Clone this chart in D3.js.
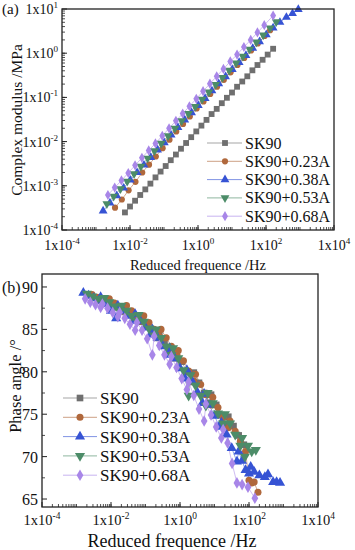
<!DOCTYPE html>
<html>
<head>
<meta charset="utf-8">
<script src="https://cdn.jsdelivr.net/npm/d3@7"></script>
<style>
  body { margin: 0; background: #fff; }
  svg { display: block; font-family: "Liberation Serif", "Times New Roman", "DejaVu Serif", serif; }
</style>
</head>
<body>
<svg id="chart" width="355" height="550"></svg>
<script>
// series names / styles
const seriesNames = ['SK90', 'SK90+0.23A', 'SK90+0.38A', 'SK90+0.53A', 'SK90+0.68A'];
const seriesColors = ['#6f6f6f', '#b0683c', '#3653d4', '#4c8c68', '#a886e8'];

// (a) complex modulus (MPa) vs reduced frequence (Hz)
const freqSK90 = [7.1e-3, 1.0e-2, 1.41e-2, 2.0e-2, 2.82e-2, 3.98e-2, 5.62e-2, 7.94e-2, 0.112, 0.158, 0.224, 0.316, 0.447, 0.631, 0.891, 1.26, 1.78, 2.51, 3.55, 5.01, 7.08, 10, 14.1, 20, 28.2, 39.8, 56.2, 79.4, 112, 162];
const modSK90 = [2.5e-4, 3.4e-4, 4.6e-4, 6.2e-4, 8.3e-4, 1.12e-3, 1.55e-3, 2.1e-3, 2.8e-3, 3.8e-3, 5.1e-3, 6.9e-3, 9.3e-3, 1.26e-2, 1.7e-2, 2.3e-2, 3.1e-2, 4.2e-2, 5.5e-2, 7.4e-2, 9.8e-2, 0.129, 0.174, 0.229, 0.30, 0.41, 0.54, 0.71, 0.93, 1.26];

const freq023 = [3.63e-3, 5.75e-3, 9.1e-3, 1.45e-2, 2.29e-2, 3.63e-2, 5.75e-2, 9.1e-2, 0.145, 0.229, 0.363, 0.575, 0.91, 1.45, 2.29, 3.63, 5.75, 9.1, 14.5, 22.9, 36.3, 57.5, 91, 132];
const mod023 = [3.2e-4, 4.9e-4, 7.9e-4, 1.23e-3, 2.0e-3, 3.0e-3, 4.6e-3, 7.1e-3, 1.1e-2, 1.7e-2, 2.5e-2, 3.7e-2, 5.6e-2, 8.1e-2, 0.12, 0.174, 0.25, 0.37, 0.54, 0.78, 1.15, 1.66, 2.45, 3.3];

const freq038 = [1.62e-3, 2.57e-3, 4.07e-3, 6.46e-3, 1.02e-2, 1.62e-2, 2.57e-2, 4.07e-2, 6.46e-2, 0.102, 0.162, 0.257, 0.407, 0.646, 1.02, 1.62, 2.57, 4.07, 6.46, 10.2, 16.2, 25.7, 40.7, 64.6, 102, 162, 257, 398, 603, 891];
const mod038 = [2.7e-4, 4.1e-4, 6.0e-4, 8.9e-4, 1.35e-3, 2.0e-3, 2.95e-3, 4.4e-3, 6.5e-3, 9.5e-3, 1.41e-2, 2.09e-2, 3.1e-2, 4.5e-2, 6.6e-2, 9.5e-2, 0.141, 0.204, 0.295, 0.43, 0.62, 0.89, 1.29, 1.82, 2.63, 3.72, 5.0, 6.5, 7.9, 9.8];

const freq053 = [2.09e-3, 3.31e-3, 5.25e-3, 8.3e-3, 1.32e-2, 2.09e-2, 3.31e-2, 5.25e-2, 8.3e-2, 0.132, 0.209, 0.331, 0.525, 0.83, 1.32, 2.09, 3.31, 5.25, 8.3, 13.2, 20.9, 33.1, 52.5, 83, 132, 200];
const mod053 = [3.9e-4, 5.75e-4, 8.5e-4, 1.26e-3, 1.86e-3, 2.75e-3, 4.2e-3, 6.2e-3, 9.1e-3, 1.35e-2, 2.0e-2, 2.95e-2, 4.3e-2, 6.2e-2, 9.1e-2, 0.132, 0.195, 0.28, 0.41, 0.60, 0.85, 1.23, 1.78, 2.57, 3.72, 5.1];

const freq068 = [2.24e-3, 3.55e-3, 5.6e-3, 8.9e-3, 1.41e-2, 2.24e-2, 3.55e-2, 5.6e-2, 8.9e-2, 0.141, 0.224, 0.355, 0.56, 0.89, 1.41, 2.24, 3.55, 5.6, 8.9, 14.1, 22.4, 35.5, 56, 89, 162];
const mod068 = [6.2e-4, 9.1e-4, 1.32e-3, 1.95e-3, 2.9e-3, 4.3e-3, 6.3e-3, 9.1e-3, 1.35e-2, 2.0e-2, 2.95e-2, 4.3e-2, 6.3e-2, 9.3e-2, 0.138, 0.204, 0.30, 0.44, 0.65, 0.93, 1.38, 2.0, 2.95, 4.3, 7.1];

// (b) phase angle (deg) vs reduced frequence (Hz)
const phFreqSK90 = [2.51e-3, 3.55e-3, 5.01e-3, 7.08e-3, 7.94e-3, 1.12e-2, 1.58e-2, 2.24e-2, 2.51e-2, 3.55e-2, 5.01e-2, 7.08e-2, 7.94e-2, 0.112, 0.158, 0.224, 0.251, 0.355, 0.501, 0.708, 0.794, 1.12, 1.58, 2.24, 2.51, 3.55, 5.01, 7.08, 7.94, 11.2, 15.8, 22.4, 25.1, 35.5, 50.1, 70.8];
const phaseSK90 = [89.0, 88.7, 88.4, 88.1, 88.5, 88.0, 87.6, 87.1, 87.7, 87.1, 86.5, 85.9, 86.4, 85.6, 84.8, 84.0, 84.6, 83.6, 82.6, 81.6, 82.4, 81.2, 80.0, 78.8, 79.9, 78.7, 77.5, 76.3, 77.3, 76.1, 74.9, 73.7, 74.7, 73.6, 72.5, 71.4];

const phFreq023 = [2.82e-3, 3.98e-3, 5.62e-3, 7.94e-3, 8.91e-3, 1.26e-2, 1.78e-2, 2.51e-2, 2.82e-2, 3.98e-2, 5.62e-2, 7.94e-2, 8.91e-2, 0.126, 0.178, 0.251, 0.282, 0.398, 0.562, 0.794, 0.891, 1.26, 1.78, 2.51, 2.82, 3.98, 5.62, 7.94, 8.91, 12.6, 17.8, 25.1, 28.2, 39.8, 56.2, 79.4, 100, 120, 141, 182];
const phase023 = [89.1, 88.8, 88.5, 88.2, 88.6, 88.1, 87.7, 87.2, 87.8, 87.2, 86.6, 86.0, 86.6, 85.8, 85.0, 84.2, 85.0, 84.0, 83.0, 82.0, 82.5, 81.3, 80.1, 78.9, 79.7, 78.5, 77.3, 76.1, 77.0, 75.8, 74.6, 73.4, 74.2, 73.0, 71.8, 70.6, 67.2, 66.9, 67.0, 65.8];

const phFreq038 = [1.58e-3, 2.24e-3, 3.16e-3, 4.47e-3, 5.01e-3, 7.08e-3, 1.0e-2, 1.41e-2, 1.58e-2, 2.24e-2, 3.16e-2, 4.47e-2, 5.01e-2, 7.08e-2, 0.1, 0.141, 0.158, 0.224, 0.316, 0.447, 0.501, 0.708, 1, 1.41, 1.58, 2.24, 3.16, 4.47, 5.01, 7.08, 10, 14.1, 15.8, 22.4, 31.6, 44.7, 50.1, 63.1, 79.4, 100, 112, 141, 200, 288, 355, 501, 631, 794];
const phase038 = [89.3, 89.0, 88.7, 88.4, 88.8, 88.0, 87.2, 86.3, 87.8, 87.2, 86.6, 86.0, 86.8, 86.0, 85.2, 84.4, 85.0, 84.0, 83.0, 82.0, 82.8, 81.6, 80.4, 79.2, 80.2, 78.9, 77.6, 76.3, 77.4, 76.1, 74.8, 73.5, 74.0, 72.6, 71.0, 69.4, 70.6, 69.5, 68.4, 68.0, 68.8, 68.2, 67.8, 67.6, 67.9, 67.0, 67.0, 66.9];

const phFreq053 = [2.0e-3, 2.82e-3, 3.98e-3, 5.62e-3, 6.31e-3, 8.91e-3, 1.26e-2, 1.78e-2, 2.0e-2, 2.82e-2, 3.98e-2, 5.62e-2, 6.31e-2, 8.91e-2, 0.126, 0.178, 0.2, 0.282, 0.398, 0.562, 0.631, 0.891, 1.26, 1.78, 2.0, 2.82, 3.98, 5.62, 6.31, 8.91, 12.6, 17.8, 20, 28.2, 39.8, 56.2, 63.1, 75.9, 93.3, 120, 158];
const phase053 = [89.2, 88.9, 88.6, 88.3, 88.7, 88.2, 87.7, 87.2, 87.8, 87.2, 86.6, 86.0, 86.7, 85.9, 85.1, 84.3, 85.0, 84.0, 83.0, 82.0, 82.8, 81.6, 80.2, 77.2, 79.6, 78.4, 77.2, 76.0, 77.5, 76.3, 75.1, 73.9, 75.0, 73.9, 72.6, 71.3, 72.2, 70.0, 71.3, 70.6, 70.8];

const phFreq068 = [1.78e-3, 2.51e-3, 3.55e-3, 5.01e-3, 5.62e-3, 7.94e-3, 1.12e-2, 1.58e-2, 1.78e-2, 2.51e-2, 3.55e-2, 5.01e-2, 5.62e-2, 7.94e-2, 0.112, 0.158, 0.178, 0.251, 0.355, 0.501, 0.562, 0.794, 1.12, 1.58, 1.78, 2.51, 3.55, 5.01, 5.62, 7.94, 11.2, 15.8, 17.8, 24.0, 32.4, 44.7, 63.1, 93.3, 148];
const phase068 = [88.6, 88.2, 87.9, 87.6, 88.0, 87.5, 87.0, 86.5, 87.0, 86.3, 85.6, 84.9, 85.8, 84.9, 83.9, 82.0, 84.2, 83.1, 82.0, 80.9, 81.8, 80.5, 79.2, 77.9, 78.8, 77.2, 75.6, 74.2, 76.2, 74.9, 73.5, 72.2, 73.2, 71.6, 69.2, 66.9, 66.7, 66.4, 65.1];

// tick values
const xMajorExp = [-4, -2, 0, 2, 4];
const yMajorExpA = [-4, -3, -2, -1, 0, 1];
const phaseTicks = [65, 70, 75, 80, 85, 90];
const phaseMinorTicks = [67.5, 72.5, 77.5, 82.5, 87.5];

const modSets = [[freqSK90, modSK90], [freq023, mod023], [freq038, mod038], [freq053, mod053], [freq068, mod068]];
const phaseSets = [[phFreqSK90, phaseSK90], [phFreq023, phase023], [phFreq038, phase038], [phFreq053, phase053], [phFreq068, phase068]];

const svg = d3.select('#chart');

// marker shapes
const symbolTypes = [d3.symbolSquare, d3.symbolCircle, d3.symbolTriangle, d3.symbolTriangle, d3.symbolDiamond];
const symbolSizes = [34, 30, 34, 34, 30];
const symbolRot = [0, 0, 0, 180, 0];

function drawMarker(g, i, x, y, scale) {
    g.append('path')
        .attr('d', d3.symbol().type(symbolTypes[i]).size(symbolSizes[i] * (scale || 1))())
        .attr('transform', `translate(${x},${y}) rotate(${symbolRot[i]})`)
        .attr('fill', seriesColors[i]);
}

function powLabel(text, exp) {
    text.text('1x10');
    text.append('tspan').attr('dy', -6).attr('font-size', '0.65em').text(exp);
}

// minor ticks for a log axis
function logMinor(lo, hi) {
    const out = [];
    for (let e = lo; e < hi; e++) {
        for (let m = 2; m <= 9; m++) out.push(m * Math.pow(10, e));
        if (e > lo) out.push(Math.pow(10, e));
    }
    return out;
}

function drawPanel(opt) {
    const { x, y, sets, symScale } = opt;
    const [x0, x1] = x.range();
    const [y0, y1] = y.range();
    const g = svg.append('g');

    // series: lines then markers
    sets.forEach((s, i) => {
        const pts = s[0].map((f, k) => [f, s[1][k]]);
        g.append('path')
            .datum(pts)
            .attr('fill', 'none')
            .attr('stroke', seriesColors[i])
            .attr('stroke-width', 0.8)
            .attr('stroke-opacity', 0.7)
            .attr('d', d3.line().x(d => x(d[0])).y(d => y(d[1])));
    });
    sets.forEach((s, i) => {
        const mg = g.append('g');
        s[0].forEach((f, k) => drawMarker(mg, i, x(f), y(s[1][k]), symScale));
    });

    // frame
    g.append('rect')
        .attr('x', x0).attr('y', y1)
        .attr('width', x1 - x0).attr('height', y0 - y1)
        .attr('fill', 'none').attr('stroke', '#222').attr('stroke-width', 1.3);
    return g;
}

// ---------- panel (a) ----------
const xA = d3.scaleLog().domain([1e-4, 1e4]).range([62, 334]);
const yA = d3.scaleLog().domain([1e-4, 1e1]).range([230, 9]);
const gA = drawPanel({ x: xA, y: yA, sets: modSets, symScale: 1 });

// ticks (inward)
logMinor(-4, 4).forEach(v => {
    gA.append('line').attr('x1', xA(v)).attr('x2', xA(v)).attr('y1', 230).attr('y2', 227)
        .attr('stroke', '#222').attr('stroke-width', 0.8);
});
xMajorExp.forEach(e => {
    gA.append('line').attr('x1', xA(Math.pow(10, e))).attr('x2', xA(Math.pow(10, e)))
        .attr('y1', 230).attr('y2', 225).attr('stroke', '#222').attr('stroke-width', 1);
    gA.append('text').attr('x', xA(Math.pow(10, e))).attr('y', 250)
        .attr('text-anchor', 'middle').attr('font-size', 14).attr('fill', '#111')
        .call(t => powLabel(t, e));
});
logMinor(-4, 1).forEach(v => {
    gA.append('line').attr('x1', 62).attr('x2', 65).attr('y1', yA(v)).attr('y2', yA(v))
        .attr('stroke', '#222').attr('stroke-width', 0.8);
});
yMajorExpA.forEach(e => {
    gA.append('line').attr('x1', 62).attr('x2', 67).attr('y1', yA(Math.pow(10, e))).attr('y2', yA(Math.pow(10, e)))
        .attr('stroke', '#222').attr('stroke-width', 1);
    gA.append('text').attr('x', 58).attr('y', yA(Math.pow(10, e)) + 5)
        .attr('text-anchor', 'end').attr('font-size', 14).attr('fill', '#111')
        .call(t => powLabel(t, e));
});

svg.append('text').attr('x', 198).attr('y', 270).attr('text-anchor', 'middle')
    .attr('font-size', 14.5).attr('fill', '#111').text('Reduced frequence /Hz');
svg.append('text').attr('transform', 'translate(22,120) rotate(-90)').attr('text-anchor', 'middle')
    .attr('font-size', 15.5).attr('fill', '#111').text('Complex modulus /MPa');
svg.append('text').attr('x', 2).attr('y', 14).attr('font-size', 15).attr('fill', '#111').text('(a)');

// legend (a)
const legA = svg.append('g');
seriesNames.forEach((name, i) => {
    const ly = 143 + i * 18.3;
    legA.append('line').attr('x1', 207).attr('x2', 242).attr('y1', ly).attr('y2', ly)
        .attr('stroke', seriesColors[i]).attr('stroke-width', 0.9).attr('stroke-opacity', 0.7);
    drawMarker(legA, i, 225, ly, 1);
    legA.append('text').attr('x', 245).attr('y', ly + 5.5).attr('font-size', 16)
        .attr('fill', '#111').text(name);
});

// ---------- panel (b) ----------
const xB = d3.scaleLog().domain([1e-4, 1e4]).range([42, 318]);
const yB = d3.scaleLinear().domain([64.06, 91.53]).range([507, 274]);
const gB = drawPanel({ x: xB, y: yB, sets: phaseSets, symScale: 1.3 });

logMinor(-4, 4).forEach(v => {
    gB.append('line').attr('x1', xB(v)).attr('x2', xB(v)).attr('y1', 507).attr('y2', 504)
        .attr('stroke', '#222').attr('stroke-width', 0.8);
});
xMajorExp.forEach(e => {
    gB.append('line').attr('x1', xB(Math.pow(10, e))).attr('x2', xB(Math.pow(10, e)))
        .attr('y1', 507).attr('y2', 502).attr('stroke', '#222').attr('stroke-width', 1);
    gB.append('text').attr('x', xB(Math.pow(10, e))).attr('y', 525)
        .attr('text-anchor', 'middle').attr('font-size', 14.5).attr('fill', '#111')
        .call(t => powLabel(t, e));
});
phaseMinorTicks.forEach(v => {
    gB.append('line').attr('x1', 42).attr('x2', 45).attr('y1', yB(v)).attr('y2', yB(v))
        .attr('stroke', '#222').attr('stroke-width', 0.8);
});
phaseTicks.forEach(v => {
    gB.append('line').attr('x1', 42).attr('x2', 47).attr('y1', yB(v)).attr('y2', yB(v))
        .attr('stroke', '#222').attr('stroke-width', 1);
    gB.append('text').attr('x', 38).attr('y', yB(v) + 6)
        .attr('text-anchor', 'end').attr('font-size', 16).attr('fill', '#111').text(v);
});

svg.append('text').attr('x', 172).attr('y', 547).attr('text-anchor', 'middle')
    .attr('font-size', 18).attr('fill', '#111').text('Reduced frequence /Hz');
svg.append('text').attr('transform', 'translate(21,386) rotate(-90)').attr('text-anchor', 'middle')
    .attr('font-size', 16.5).attr('fill', '#111').text('Phase angle /°');
svg.append('text').attr('x', 2).attr('y', 293).attr('font-size', 16).attr('fill', '#111').text('(b)');

// legend (b)
const legB = svg.append('g');
seriesNames.forEach((name, i) => {
    const ly = 398 + i * 19.3;
    legB.append('line').attr('x1', 63).attr('x2', 97).attr('y1', ly).attr('y2', ly)
        .attr('stroke', seriesColors[i]).attr('stroke-width', 0.9).attr('stroke-opacity', 0.7);
    drawMarker(legB, i, 80, ly, 1.3);
    legB.append('text').attr('x', 100).attr('y', ly + 6).attr('font-size', 17)
        .attr('fill', '#111').text(name);
});
</script>
</body>
</html>
